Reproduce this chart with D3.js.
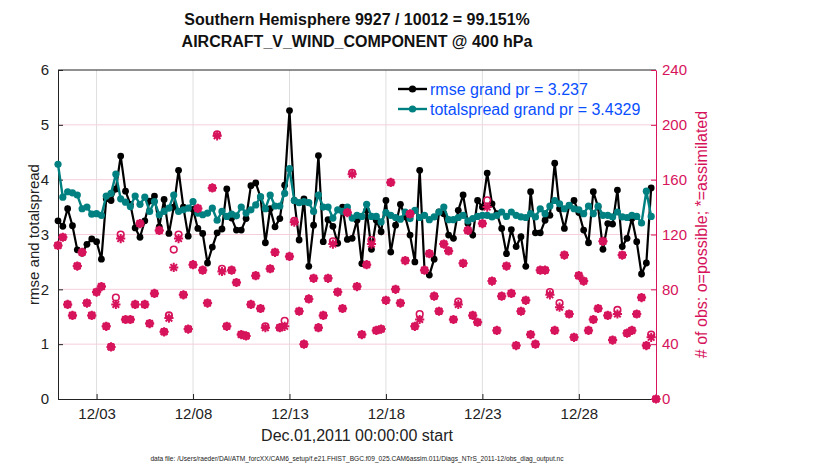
<!DOCTYPE html>
<html>
<head>
<meta charset="utf-8">
<script src="https://cdn.jsdelivr.net/npm/d3@7"></script>
<style>
  body { margin: 0; background: #fff; }
  text { font-family: "Liberation Sans", Arial, Helvetica, sans-serif; }
</style>
</head>
<body>
<div id="chart"></div>
<script>
// 6-hourly bins, Dec 01 2011 00Z .. Jan 01 2012 00Z
var startTime = new Date(2011, 11, 1, 0, 0, 0);
var binHours = 6;

var rmse = [3.25,3.15,3.47,3.16,2.72,2.66,2.82,2.92,2.87,2.55,
  3.65,3.62,3.83,4.43,3.79,3.55,3.12,2.95,3.25,3.61,
  3.70,3.14,3.64,3.02,3.50,4.17,3.50,2.97,3.46,3.11,
  3.02,2.48,2.77,3.03,3.10,3.83,3.30,3.08,3.08,3.29,
  3.89,3.94,3.68,2.85,3.47,3.14,3.29,3.90,5.26,3.62,
  2.90,3.65,2.42,3.17,4.44,2.87,3.27,3.15,2.84,3.50,
  2.91,2.93,3.26,2.47,3.44,2.73,3.26,3.05,3.62,2.68,
  3.17,3.55,3.32,2.99,2.50,4.17,2.35,2.26,2.55,3.41,
  3.38,2.99,2.93,3.44,3.72,3.20,2.99,3.62,3.50,4.12,
  3.56,3.38,3.11,2.65,3.09,2.78,2.96,2.42,3.78,3.03,
  3.03,3.26,3.35,4.30,3.47,3.11,3.53,3.62,3.40,3.08,
  2.85,3.78,3.50,2.73,3.20,3.19,3.81,2.78,2.93,3.29,
  2.87,2.28,2.48,3.85,null];

var spread = [4.28,3.68,3.78,3.76,3.72,3.47,3.50,3.37,3.38,3.35,
  3.70,3.75,4.10,3.65,3.59,3.51,3.70,3.55,3.68,3.42,
  3.60,3.36,3.42,3.48,3.72,3.42,3.45,3.48,3.60,3.39,
  3.36,3.39,3.48,3.26,3.42,3.33,3.37,3.34,3.50,3.39,
  3.45,3.54,3.69,3.47,3.72,3.52,3.52,3.75,4.20,3.62,
  3.58,3.60,3.58,3.42,3.72,3.50,3.50,3.30,3.45,3.42,
  3.50,3.30,3.35,3.33,3.55,3.33,3.33,3.23,3.40,3.35,
  3.31,3.28,3.41,3.29,3.44,3.31,3.35,3.27,3.32,3.41,
  3.50,3.27,3.27,3.31,3.35,3.25,3.29,3.33,3.35,3.35,
  3.32,3.35,3.41,3.33,3.41,3.35,3.32,3.31,3.38,3.32,
  3.47,3.38,3.52,3.62,3.56,3.47,3.53,3.47,3.45,3.38,
  3.52,3.38,3.52,3.35,3.35,3.32,3.41,3.32,3.31,3.35,
  3.33,3.21,3.79,3.33,null];

var obsPossible = [112,118,69,61,97,107,70,61,78,82,
  53,38,74,120,58,58,69,128,69,55,
  77,123,49,61,109,120,76,51,98,139,
  94,70,154,193,95,53,94,85,47,46,
  69,90,66,53,95,107,52,57,104,130,
  64,40,73,88,52,61,88,115,78,66,
  136,165,82,47,98,116,50,51,72,158,
  80,70,101,135,53,62,94,106,75,64,
  113,108,58,71,99,123,61,56,128,145,
  86,50,75,97,77,39,64,72,47,40,
  94,94,78,50,70,105,62,45,90,86,
  50,58,66,115,61,43,65,105,48,50,
  62,74,39,47,0];

var obsAssim = [112,118,69,61,97,107,70,61,78,82,
  53,38,69,117,58,58,69,128,69,55,
  77,123,49,59,96,117,76,51,98,139,
  94,70,154,192,93,53,94,85,47,46,
  69,90,66,52,95,107,52,53,104,129,
  64,40,73,88,52,61,88,113,78,66,
  136,164,82,47,98,113,50,51,72,158,
  80,70,101,135,53,58,94,106,75,64,
  113,108,58,69,99,123,61,56,128,140,
  86,50,75,97,77,39,64,72,47,40,
  94,94,76,50,67,105,62,45,90,86,
  50,58,66,115,61,43,62,105,48,50,
  62,74,39,45,0];

var tickLabels = ["12/03","12/08","12/13","12/18","12/23","12/28"];
var leftTicks = [0,1,2,3,4,5,6];
var rightTicks = [0,40,80,120,160,200,240];
var titleLines = ["Southern Hemisphere 9927 / 10012 = 99.151%",
                  "AIRCRAFT_V_WIND_COMPONENT @ 400 hPa"];
var legendLabels = ["rmse grand pr = 3.237", "totalspread grand pr = 3.4329"];

var W = 830, H = 470;
var plot = {left: 58, right: 656, top: 70, bottom: 399};
var red = "#d6135b", teal = "#008080", blue = "#0a4fff";

var times = rmse.map(function(d, i) { return new Date(startTime.getTime() + i * binHours * 3600000); });
var tickDates = tickLabels.map(function(s) {
  var p = s.split("/");
  return new Date(2011, +p[0] - 1, +p[1]);
});

var svg = d3.select("#chart").append("svg")
  .attr("width", W).attr("height", H)
  .style("background", "#fff");

var x = d3.scaleTime().domain([times[0], times[times.length - 1]]).range([plot.left, plot.right]);
var yL = d3.scaleLinear().domain([0, 6]).range([plot.bottom, plot.top]);
var yR = d3.scaleLinear().domain([0, 240]).range([plot.bottom, plot.top]);

// grid
svg.append("g").selectAll("line").data(tickDates).enter().append("line")
  .attr("x1", function(d) { return x(d); }).attr("x2", function(d) { return x(d); })
  .attr("y1", plot.top).attr("y2", plot.bottom)
  .attr("stroke", "#dedede").attr("stroke-width", 1);
svg.append("g").selectAll("line").data(rightTicks.slice(1, -1)).enter().append("line")
  .attr("x1", plot.left).attr("x2", plot.right)
  .attr("y1", function(d) { return yR(d); }).attr("y2", function(d) { return yR(d); })
  .attr("stroke", "#f6cfdc").attr("stroke-width", 1);

// top border
svg.append("line").attr("x1", plot.left).attr("x2", plot.right)
  .attr("y1", plot.top).attr("y2", plot.top).attr("stroke", "#222").attr("stroke-width", 1);

// axes
var gx = svg.append("g").attr("transform", "translate(0," + plot.bottom + ")")
  .call(d3.axisBottom(x).tickValues(tickDates).tickFormat(d3.timeFormat("%m/%d"))
    .tickSizeInner(-5).tickSizeOuter(0).tickPadding(9));
var gl = svg.append("g").attr("transform", "translate(" + plot.left + ",0)")
  .call(d3.axisLeft(yL).tickValues(leftTicks).tickFormat(d3.format("d"))
    .tickSizeInner(-5).tickSizeOuter(0).tickPadding(9));
var gr = svg.append("g").attr("transform", "translate(" + plot.right + ",0)")
  .call(d3.axisRight(yR).tickValues(rightTicks).tickSizeInner(-5).tickSizeOuter(0).tickPadding(6));

[gx, gl].forEach(function(g) {
  g.selectAll("path,line").attr("stroke", "#222");
  g.selectAll("text").attr("fill", "#222").style("font-size", "15px");
});
gr.selectAll("path,line").attr("stroke", red);
gr.selectAll("text").attr("fill", red).style("font-size", "15px");

var line = function(vals, ys) {
  return d3.line().defined(function(d) { return d != null; })
    .x(function(d, i) { return x(times[i]); })
    .y(function(d) { return ys(d); })(vals);
};
var pts = function(vals) {
  return vals.map(function(d, i) { return {v: d, i: i}; }).filter(function(d) { return d.v != null; });
};

// rmse
svg.append("path").attr("d", line(rmse, yL))
  .attr("fill", "none").attr("stroke", "#000").attr("stroke-width", 2.2);
svg.selectAll(".rm").data(pts(rmse)).enter().append("circle").attr("class", "rm")
  .attr("cx", function(d) { return x(times[d.i]); })
  .attr("cy", function(d) { return yL(d.v); })
  .attr("r", 3.4).attr("fill", "#000");

// totalspread
svg.append("path").attr("d", line(spread, yL))
  .attr("fill", "none").attr("stroke", teal).attr("stroke-width", 2.4);
svg.selectAll(".sp").data(pts(spread)).enter().append("circle").attr("class", "sp")
  .attr("cx", function(d) { return x(times[d.i]); })
  .attr("cy", function(d) { return yL(d.v); })
  .attr("r", 3.6).attr("fill", teal);

// obs counts: o = possible, * = assimilated
svg.selectAll(".op").data(obsPossible).enter().append("circle").attr("class", "op")
  .attr("cx", function(d, i) { return x(times[i]); })
  .attr("cy", function(d) { return yR(d); })
  .attr("r", 3.3).attr("fill", "none").attr("stroke", red).attr("stroke-width", 1.6);
var star = "M-4.6,0H4.6M0,-4.6V4.6M-3.3,-3.3L3.3,3.3M-3.3,3.3L3.3,-3.3";
svg.selectAll(".oa").data(obsAssim).enter().append("path").attr("class", "oa")
  .attr("transform", function(d, i) { return "translate(" + x(times[i]) + "," + yR(d) + ")"; })
  .attr("d", star).attr("fill", "none").attr("stroke", red).attr("stroke-width", 2);

// legend
var leg = svg.append("g");
[["#000", 89], [teal, 109]].forEach(function(e, k) {
  leg.append("line").attr("x1", 398).attr("x2", 427).attr("y1", e[1]).attr("y2", e[1])
    .attr("stroke", e[0]).attr("stroke-width", 2.4);
  leg.append("circle").attr("cx", 412.5).attr("cy", e[1]).attr("r", 3.6).attr("fill", e[0]);
  leg.append("text").attr("x", 430).attr("y", e[1] + 5.5).text(legendLabels[k])
    .attr("fill", blue).style("font-size", "16px");
});

// titles and labels
var cx = (plot.left + plot.right) / 2;
titleLines.forEach(function(t, k) {
  svg.append("text").attr("x", cx).attr("y", 25 + 22 * k).attr("text-anchor", "middle")
    .style("font-size", "16px").style("font-weight", "bold").attr("fill", "#111").text(t);
});
svg.append("text").attr("x", cx).attr("y", 441).attr("text-anchor", "middle")
  .style("font-size", "16px").attr("fill", "#222").text("Dec.01,2011 00:00:00 start");
svg.append("text").attr("transform", "translate(39," + ((plot.top + plot.bottom) / 2) + ")rotate(-90)")
  .attr("text-anchor", "middle").style("font-size", "15px").attr("fill", "#222")
  .text("rmse and totalspread");
svg.append("text").attr("transform", "translate(707," + ((plot.top + plot.bottom) / 2) + ")rotate(-90)")
  .attr("text-anchor", "middle").style("font-size", "16px").attr("fill", red)
  .text("# of obs: o=possible; *=assimilated");
svg.append("text").attr("x", cx).attr("y", 461).attr("text-anchor", "middle")
  .style("font-size", "6.6px").attr("fill", "#222")
  .text("data file: /Users/raeder/DAI/ATM_forcXX/CAM6_setup/f.e21.FHIST_BGC.f09_025.CAM6assim.011/Diags_NTrS_2011-12/obs_diag_output.nc");
</script>
</body>
</html>
